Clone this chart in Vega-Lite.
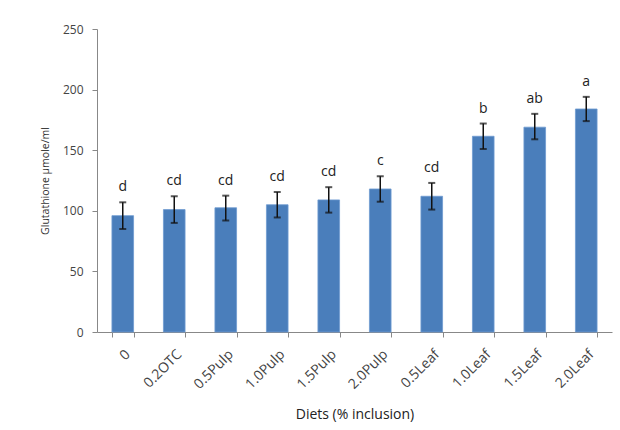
{
  "$schema": "https://vega.github.io/schema/vega-lite/v6.json",
  "width": 515,
  "height": 303,
  "autosize": "none",
  "padding": {"left": 97, "top": 29, "right": 8, "bottom": 98},
  "background": "white",
  "config": {"view": {"stroke": null}, "font": "Open Sans"},
  "data": {"values": [
    {"diet": "0", "mean": 96, "lo": 85, "hi": 107, "letter": "d"},
    {"diet": "0.2OTC", "mean": 101, "lo": 90, "hi": 112, "letter": "cd"},
    {"diet": "0.5Pulp", "mean": 102.5, "lo": 92, "hi": 112.5, "letter": "cd"},
    {"diet": "1.0Pulp", "mean": 105, "lo": 94.5, "hi": 115.5, "letter": "cd"},
    {"diet": "1.5Pulp", "mean": 109, "lo": 98.5, "hi": 119.5, "letter": "cd"},
    {"diet": "2.0Pulp", "mean": 118, "lo": 107.5, "hi": 128.5, "letter": "c"},
    {"diet": "0.5Leaf", "mean": 112, "lo": 101, "hi": 123, "letter": "cd"},
    {"diet": "1.0Leaf", "mean": 161.5, "lo": 151, "hi": 172, "letter": "b"},
    {"diet": "1.5Leaf", "mean": 169, "lo": 159, "hi": 180, "letter": "ab"},
    {"diet": "2.0Leaf", "mean": 184, "lo": 174, "hi": 194, "letter": "a"}
  ]},
  "encoding": {
    "x": {
      "field": "diet", "type": "nominal", "sort": null,
      "scale": {"paddingInner": 0.58, "paddingOuter": 0.29},
      "axis": {
        "title": "Diets (% inclusion)", "titleFontSize": 14, "titleFontWeight": "normal", "titleColor": "#222222", "titlePadding": 16,
        "labelAngle": -45, "labelFontSize": 14, "labelColor": "#444444", "labelPadding": 10,
        "domainColor": "#888888", "tickColor": "#888888", "tickSize": 5, "tickBand": "extent"
      }
    }
  },
  "layer": [
    {
      "mark": {"type": "bar", "color": "#4a7ebb", "stroke": "#6f9bd0", "strokeWidth": 0.8},
      "encoding": {
        "y": {
          "field": "mean", "type": "quantitative",
          "scale": {"domain": [0, 250], "nice": false},
          "axis": {
            "title": "Glutathione µmole/ml", "titleFontSize": 10.5, "titleFontWeight": "normal", "titleColor": "#333333", "titlePadding": 12,
            "values": [0, 50, 100, 150, 200, 250], "grid": false,
            "labelFontSize": 12, "labelColor": "#444444", "labelPadding": 9,
            "domainColor": "#888888", "tickColor": "#888888", "tickSize": 5
          }
        }
      }
    },
    {
      "mark": {"type": "rule", "color": "#111111", "strokeWidth": 1.5},
      "encoding": {
        "y": {"field": "lo", "type": "quantitative"},
        "y2": {"field": "hi"}
      }
    },
    {
      "mark": {"type": "tick", "color": "#111111", "thickness": 2, "size": 7, "orient": "horizontal"},
      "encoding": {"y": {"field": "lo", "type": "quantitative"}}
    },
    {
      "mark": {"type": "tick", "color": "#111111", "thickness": 2, "size": 7, "orient": "horizontal"},
      "encoding": {"y": {"field": "hi", "type": "quantitative"}}
    },
    {
      "mark": {"type": "text", "baseline": "bottom", "dy": -8, "fontSize": 14, "fontWeight": 500, "color": "#222222"},
      "encoding": {
        "y": {"field": "hi", "type": "quantitative"},
        "text": {"field": "letter"}
      }
    }
  ]
}
